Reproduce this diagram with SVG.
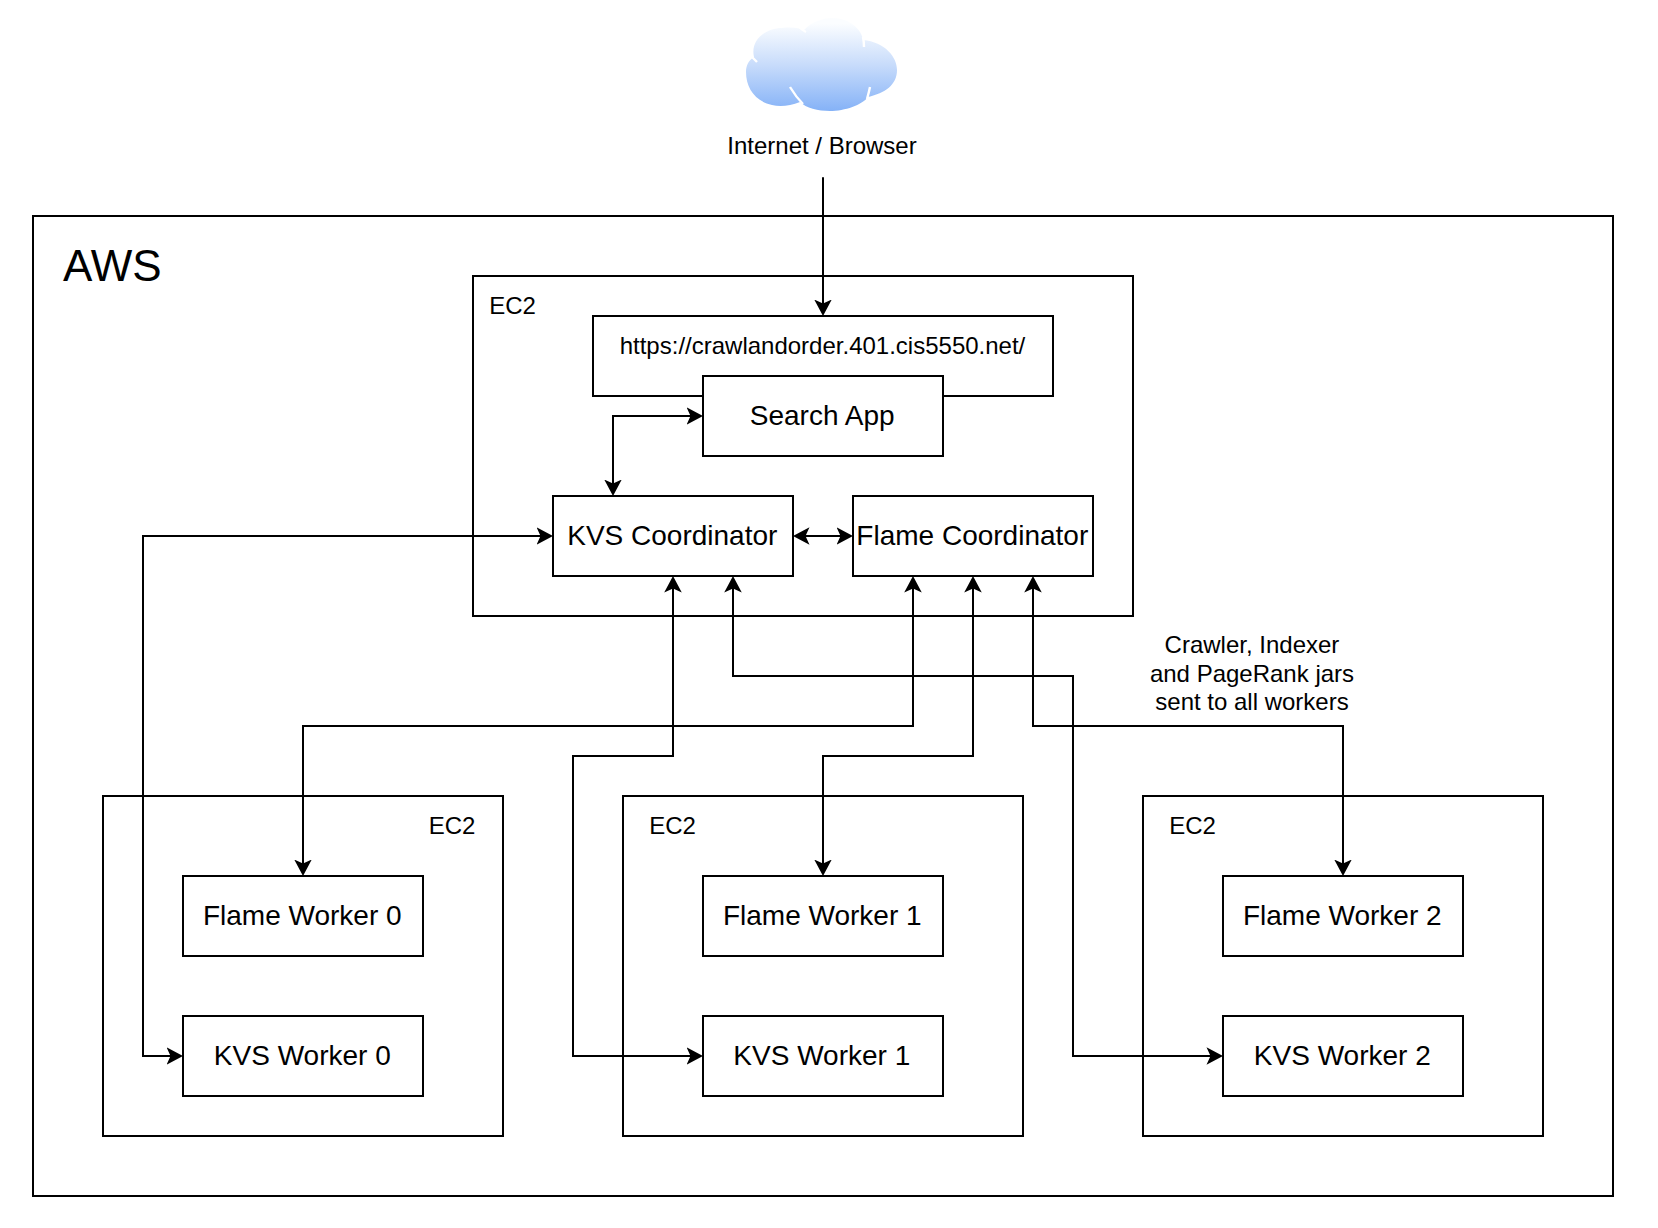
<svg xmlns="http://www.w3.org/2000/svg" width="1658" height="1228" viewBox="0 0 1658 1228">
<style>
text{font-family:"Liberation Sans",Arial,sans-serif;fill:#000;text-anchor:middle}
.box{fill:#fff;stroke:#000;stroke-width:2}
.frame{fill:none;stroke:#000;stroke-width:2}
.n{font-size:28px}
.s{font-size:24px}
.c{fill:none;stroke:#000;stroke-width:2}
.one{marker-end:url(#a)}
.two{marker-start:url(#a);marker-end:url(#a)}
.gap{fill:none;stroke:#fff;stroke-width:2.4}
</style>
<defs>
<linearGradient id="sky" x1="0" y1="0" x2="0" y2="1"><stop offset="0.06" stop-color="#fbfdff"/><stop offset="0.5" stop-color="#c8dcfb"/><stop offset="1" stop-color="#85b2f7"/></linearGradient>
<marker id="a" markerUnits="userSpaceOnUse" markerWidth="20" markerHeight="20" viewBox="0 -10 20 20" refX="11.5" refY="0" orient="auto-start-reverse"><path d="M0 -8.8L16.5 0L0 8.800L4 0Z" fill="#000"/></marker>
</defs>
<rect width="1658" height="1228" fill="#fff"/>
<g id="cloud">
<path d="M754 57C750 40 766 28 782 28C792 27 800 28 804 30C812 21 825 18 832 18C850 18 862 30 863 40C885 42 897 57 897 70C897 85 885 93 868 97C862 105 845 111 830 111C818 111 806 108 800 102C790 106 780 107 772 105C755 101 746 88 746 72C746 65 749 60 754 57Z" fill="url(#sky)"/>
<path class="gap" d="M751 56Q753 58 757 62M798 26Q802 30 806 32M863 37Q864 42 864 47M790 87Q796 97 803 104M870 87Q869 92 867 99"/>
<text class="s" x="822" y="154">Internet / Browser</text>
</g>
<g transform="translate(0.3 0.3)">
<g id="aws"><rect class="frame" x="32.7" y="215.7" width="1580" height="980"/><text x="112" y="280.700" font-size="44">AWS</text></g>
<g id="ec2-main"><rect class="frame" x="472.7" y="275.7" width="660" height="340"/><text class="s" x="512.2" y="313.700">EC2</text></g>
<g id="url"><rect class="box" x="592.7" y="315.7" width="460" height="80"/><text class="s" x="822.2" y="353.700">https://crawlandorder.401.cis5550.net/</text></g>
<g id="search-app"><rect class="box" x="702.7" y="375.7" width="240" height="80"/><text class="n" x="821.900" y="424.500">Search App</text></g>
<g id="kvs-coordinator"><rect class="box" x="552.7" y="495.7" width="240" height="80"/><text class="n" x="672" y="544.500">KVS Coordinator</text></g>
<g id="flame-coordinator"><rect class="box" x="852.7" y="495.7" width="240" height="80"/><text class="n" x="972" y="544.500">Flame Coordinator</text></g>
<g id="ec2-0"><rect class="frame" x="102.7" y="795.7" width="400" height="340"/><text class="s" x="451.7" y="833.700">EC2</text></g>
<g id="flame-worker-0"><rect class="box" x="182.7" y="875.7" width="240" height="80"/><text class="n" x="302" y="924.500">Flame Worker 0</text></g>
<g id="kvs-worker-0"><rect class="box" x="182.7" y="1015.7" width="240" height="80"/><text class="n" x="302" y="1064.500">KVS Worker 0</text></g>
<g id="ec2-1"><rect class="frame" x="622.7" y="795.7" width="400" height="340"/><text class="s" x="672.2" y="833.700">EC2</text></g>
<g id="flame-worker-1"><rect class="box" x="702.7" y="875.7" width="240" height="80"/><text class="n" x="822" y="924.500">Flame Worker 1</text></g>
<g id="kvs-worker-1"><rect class="box" x="702.7" y="1015.7" width="240" height="80"/><text class="n" x="821.500" y="1064.500">KVS Worker 1</text></g>
<g id="ec2-2"><rect class="frame" x="1142.7" y="795.7" width="400" height="340"/><text class="s" x="1192.2" y="833.700">EC2</text></g>
<g id="flame-worker-2"><rect class="box" x="1222.7" y="875.7" width="240" height="80"/><text class="n" x="1342" y="924.500">Flame Worker 2</text></g>
<g id="kvs-worker-2"><rect class="box" x="1222.7" y="1015.7" width="240" height="80"/><text class="n" x="1342" y="1064.500">KVS Worker 2</text></g>
<g id="jars-label"><text class="s" x="1251.700" y="653">Crawler, Indexer</text><text class="s" x="1251.700" y="681.700">and PageRank jars</text><text class="s" x="1251.700" y="710">sent to all workers</text></g>
<g id="connectors">
<path class="c one" d="M822.7 177V310.700"/>
<path class="c two" d="M612.7 490.700V415.700H697.700"/>
<path class="c two" d="M797.700 535.700H847.700"/>
<path class="c two" d="M547.700 535.700H142.700V1055.700H177.700"/>
<path class="c two" d="M672.700 580.700V755.700H572.700V1055.700H697.700"/>
<path class="c two" d="M732.700 580.700V675.700H1072.700V1055.700H1217.700"/>
<path class="c two" d="M912.700 580.700V725.700H302.700V870.700"/>
<path class="c two" d="M972.700 580.700V755.700H822.700V870.700"/>
<path class="c two" d="M1032.700 580.700V725.700H1342.700V870.700"/>
</g>
</g>
</svg>
